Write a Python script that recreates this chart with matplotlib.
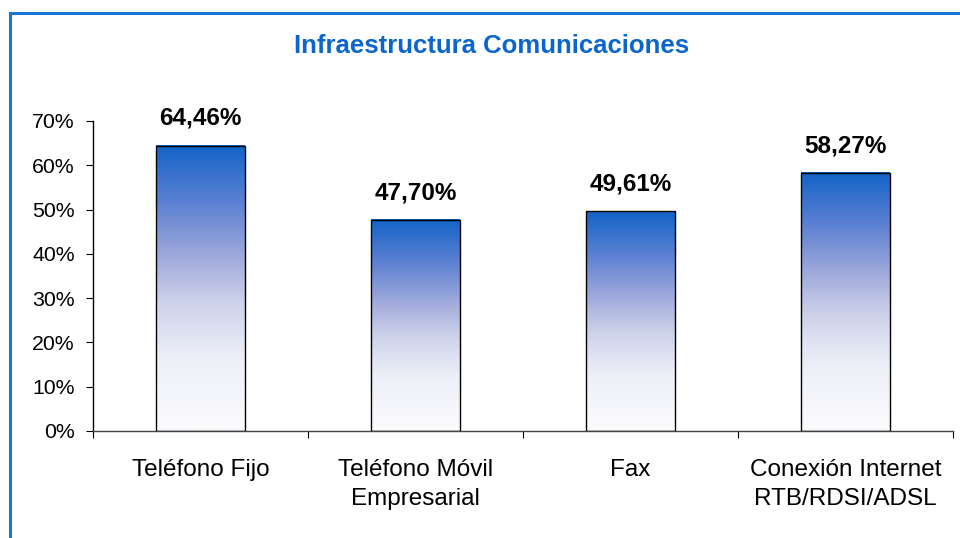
import numpy as np
import matplotlib
matplotlib.use("Agg")
import matplotlib.pyplot as plt
from matplotlib.colors import LinearSegmentedColormap
from matplotlib.patches import Rectangle

categories = ["Teléfono Fijo", "Teléfono Móvil\nEmpresarial", "Fax",
              "Conexión Internet\nRTB/RDSI/ADSL"]
values = [64.46, 47.70, 49.61, 58.27]
value_labels = ["64,46%", "47,70%", "49,61%", "58,27%"]
y_ticks = [0, 10, 20, 30, 40, 50, 60, 70]

plt.rcParams['font.family'] = ['Liberation Sans', 'DejaVu Sans']

# gradient from bottom (almost white) to top (strong blue)
grad = LinearSegmentedColormap.from_list("barfill", [
    (0.0, '#FCFCFE'), (0.25, '#EEF0F8'), (0.45, '#CDD2EA'),
    (0.6, '#A3ACDC'), (0.8, '#5C80D2'), (1.0, '#1464C8')])

fig = plt.figure(figsize=(9.6, 5.38), dpi=100)
fig.patch.set_facecolor('white')

# blue frame around the chart area (runs off the right/bottom edges)
fig.add_artist(Rectangle((10 / 960, -0.1), 1.2, 1 - 13 / 538 + 0.1,
                         transform=fig.transFigure, fill=False,
                         edgecolor='#1874D6', lw=2.2))

ax = fig.add_axes([93 / 960, 1 - 431 / 538, (953 - 93) / 960, (431 - 121) / 538])

n = len(categories)
width = 0.41
grad_img = np.linspace(0, 1, 256).reshape(-1, 1)
for i, v in enumerate(values):
    x0 = i - width / 2
    ax.imshow(grad_img, cmap=grad, origin='lower', aspect='auto',
              extent=(x0, x0 + width, 0, v), zorder=2, interpolation='bilinear')
ax.bar(range(n), values, width=width, facecolor='none', edgecolor='black',
       lw=1.0, zorder=3)

for i, (v, lab) in enumerate(zip(values, value_labels)):
    ax.annotate(lab, (i, v), xytext=(0, 19.5), textcoords='offset points',
                ha='center', va='center', fontsize=17.5, fontweight='bold')

ax.set_xlim(-0.5, n - 0.5)
ax.set_ylim(0, 70)
ax.set_yticks(y_ticks)
ax.set_yticklabels([f"{t}%" for t in y_ticks], fontsize=15.3)
ax.set_xticks(np.arange(n + 1) - 0.5)
ax.set_xticklabels([])
ax.set_xticks(range(n), minor=True)
ax.set_xticklabels(categories, minor=True, fontsize=17.5, linespacing=1.4)
ax.tick_params(axis='x', which='minor', length=0, pad=20)
ax.tick_params(axis='x', which='major', length=5, direction='out')
ax.tick_params(axis='y', length=5, direction='out', pad=8)

for s in ['top', 'right']:
    ax.spines[s].set_visible(False)
ax.spines['left'].set_linewidth(1)
ax.spines['bottom'].set_linewidth(1)
ax.spines['bottom'].set_color('#444444')

fig.text(492 / 960, 1 - 46 / 538, "Infraestructura Comunicaciones", ha='center',
         va='center', fontsize=18.5, fontweight='bold', color='#0A66CC')

fig.savefig("out.png", dpi=100)
